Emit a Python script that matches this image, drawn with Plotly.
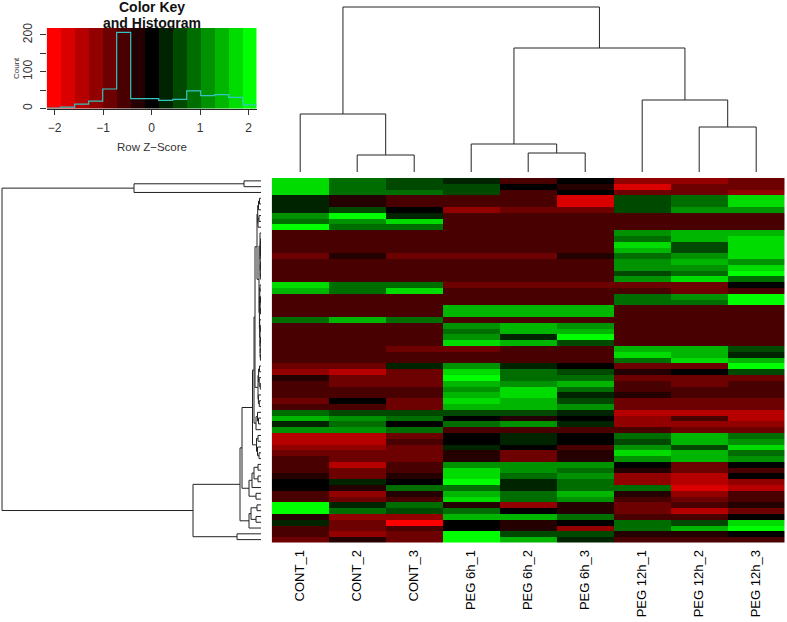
import plotly.graph_objects as go

W, H = 787, 622
SAMPLES = ["CONT_1", "CONT_2", "CONT_3", "PEG 6h_1", "PEG 6h_2", "PEG 6h_3", "PEG 12h_1", "PEG 12h_2", "PEG 12h_3"]

# z-scores per sample, rows top to bottom
cont_1 = [1.73,1.73,1.73,.29,.29,.29,1.15,.87,2.02,
 -.58,-.58,-.58,-.58,-.87,-.58,-.58,-.58,-.58,
 1.73,1.44,-.58,-.58,-.58,-.58,.87,-.58,-.58,
 -.58,-.58,-.58,-.58,-.58,-.87,-1.15,-.29,
 -.58,-.58,-.58,-.87,-.58,.87,1.44,.29,1.15,
 -1.44,-1.44,-1.15,-.87,-.58,-.58,-.58,-.29,0,0,-.58,-.58,2.02,2.02,-.29,.29,-.58,-.58,-.87]
cont_2 = [.87,.87,.87,-.29,-.29,.58,2.02,1.15,.87,
 -.58,-.58,-.58,-.58,-.29,-.58,-.58,-.58,-.58,
 .87,.87,-.58,-.58,-.58,-.58,1.44,-.58,-.58,
 -.58,-.58,-.58,-.58,-.58,-.87,-1.44,-.87,
 -.87,-.58,-.58,0,-.58,.58,1.15,.87,1.15,
 -1.44,-1.44,-1.15,-.87,-.87,-1.44,-.87,-.87,.29,-.29,-1.15,-.87,.29,.87,-1.15,-.87,-.87,-1.15,-.29]
cont_3 = [.58,.58,.87,-.58,-.58,0,.29,1.73,.87,
 -.58,-.58,-.58,-.58,-.87,-.58,-.58,-.58,-.58,
 .87,1.73,-.58,-.58,-.58,-.58,.87,-.58,-.58,
 -.58,-.58,-.87,-.58,-.58,.29,-.87,-.87,
 -.87,-.58,-.58,-.87,-.87,.58,.87,0,.87,
 -.87,-.58,-.87,-.87,-.87,-.58,-.58,-.29,0,.87,-.29,-.58,.87,.58,-1.15,-2.02,-.58,-.87,-.87]
peg6_1 = [.29,.58,.58,-.58,-.58,-1.15,-.58,-.58,-.58,
 -.58,-.58,-.58,-.58,-.87,-.58,-.58,-.58,-.58,
 -.87,-.58,-.58,-.58,1.44,1.44,-.58,1.15,.87,
 1.15,1.73,-.87,-.58,-.58,1.15,1.73,2.02,
 1.44,1.15,1.44,1.73,1.44,.58,0,.87,-.58,
 0,0,.29,-.29,-.29,1.15,1.73,1.73,2.02,.87,1.44,1.73,-.29,.87,1.44,0,0,2.02,2.02]
peg6_2 = [-.58,0,-.58,-.58,-.58,-.87,-.58,-.58,-.58,
 -.58,-.58,-.58,-.58,-.87,-.58,-.58,-.58,-.58,
 -.87,-.58,-.58,-.58,1.44,1.44,-.58,1.44,1.44,
 .29,1.44,-.58,-.58,-.58,.29,.87,.87,
 1.15,1.73,1.73,1.44,1.44,.58,-.29,1.15,-.58,
 .29,.29,0,-.87,-.87,1.15,1.15,.87,.29,.29,.87,.87,-1.15,0,1.44,-.29,-.29,.58,1.44]
peg6_3 = [0,-.29,0,-1.73,-1.73,-.87,-.58,-.58,-.58,
 -.58,-.58,-.58,-.58,-.29,-.58,-.58,-.58,-.58,
 -.87,-.58,-.58,-.58,1.44,1.44,-.58,1.15,1.44,
 2.02,.58,-.58,-.58,-.58,0,.58,.87,
 1.44,.87,.29,.58,1.15,.29,0,.29,-.58,
 0,0,-.58,-.29,-.29,1.15,.87,1.15,.87,.87,1.44,1.15,-.29,-.29,.87,0,-1.15,.58,.29]
peg12_1 = [-1.15,-1.73,-.87,.58,.58,.58,-.58,-.58,-.58,
 1.15,.87,1.73,1.44,.87,1.15,1.15,.58,1.15,
 -.87,-.58,.87,.87,-.58,-.58,-.58,-.58,-.58,
 -.58,-.58,1.44,1.73,.87,-.87,-.29,-.87,
 -.58,-.58,-.29,-.87,-.87,-1.44,-1.15,-1.15,-.58,
 .87,.58,1.15,1.73,1.15,0,-.29,-1.15,-1.15,.87,-.29,-.58,-.87,-.87,-.58,.87,.87,-.29,-.58]
peg12_2 = [-1.15,-.87,-.87,.87,.87,1.15,-.58,-.58,-.58,
 1.44,1.44,.58,.58,1.15,1.44,1.15,.87,1.73,
 -.87,-.87,1.15,.87,-.58,-.58,-.58,-.58,-.58,
 -.58,-.58,1.44,1.44,1.73,-.87,0,-.87,
 -.87,-.58,-.58,-.87,-.87,-1.44,-.58,-1.15,-.87,
 1.44,1.44,.58,1.44,1.44,-.87,-.87,-1.44,-1.44,-1.73,-1.15,-.87,-.58,-1.44,-.58,.58,1.44,-.29,-.58]
peg12_3 = [-.87,-.87,-1.15,1.73,1.73,1.15,-.58,-.58,-.58,
 1.44,1.73,1.73,1.73,1.73,1.15,1.73,2.02,.87,
 0,-.58,2.02,2.02,-.58,-.58,-.58,-.58,-.58,
 -.58,-.58,.58,.29,1.44,2.02,.58,-.87,
 -.58,-.58,-.58,-.87,-.87,-1.44,-1.44,-1.15,-.87,
 .87,1.15,1.73,.87,1.15,0,-.58,0,-1.15,-1.44,-.58,-.58,-.29,-.87,0,1.73,2.02,0,-.58]
COLUMNS = [cont_1, cont_2, cont_3, peg6_1, peg6_2, peg6_3, peg12_1, peg12_2, peg12_3]
assert all(len(c) == 63 for c in COLUMNS), [len(c) for c in COLUMNS]

# colour key
KEY_COLORS = ["#ff0000","#db0000","#b60000","#920000","#6d0000","#490000","#240000","#000000",
              "#002400","#004900","#006d00","#009200","#00b600","#00db00","#00ff00"]
KEY_EDGES = [-2.165,-1.876,-1.588,-1.299,-1.01,-.722,-.433,-.144,.144,.433,.722,1.01,1.299,1.588,1.876,2.165]
KEY_MIDS = [-2.02,-1.73,-1.44,-1.15,-.87,-.58,-.29,0,.29,.58,.87,1.15,1.44,1.73,2.02]
HIST_COUNTS = [1,4,12,20,53,207,27,27,22,25,48,35,38,30,10]

# dendrogram merges: (height, left, right); ints are leaf positions
COL_TREE = (165, (58, 0, (17, 1, 2)), (124, (28, 3, (19, 4, 5)), (72, 6, (45, 7, 8))))
ROWS_3_8 = (3.3, (2.5, (1.5, 3, 4), 5), (3, (2, 6, 7), 8))
ROWS_9_17 = (1, 9, (.8, (.6, (.4, 10, 11), (.5, 12, 13)), (.7, (.3, 14, 15), (.3, 16, 17))))
ROWS_18_31 = (1.6, (1.2, (1, 18, 19), (.9, (.5, 20, 21), (.6, 22, 23))),
              (1.3, 24, (1.1, (.7, 25, 26), (.8, (.5, 27, 28), (.9, 29, (.6, 30, 31))))))
ROWS_32_39 = (3, (2.4, (1.5, 32, 33), (1.8, 34, (.7, 35, 36))), (2.6, 37, (1.7, 38, 39)))
ROWS_40_43 = (5, (3.5, 40, (2.5, 41, 42)), 43)
ROWS_44_48 = (4.5, (3, 44, 45), (3.5, 46, (2, 47, 48)))
ROWS_49_55 = (12, (9, (7, (3, 49, 50), (3, 51, 52)), 53), (5, 54, 55))
ROWS_56_60 = (12, (10, (4, 56, 57), (5, 58, 59)), 60)
ROWS_3_31 = (4, ROWS_3_8, (2, ROWS_9_17, ROWS_18_31))
ROW_TREE = (259, (127, (17, 0, 1), 2),
            (68, (21, (19, (8.5, (7, (6, ROWS_3_31, ROWS_32_39), ROWS_40_43), ROWS_44_48), ROWS_49_55), ROWS_56_60),
             (24, 61, 62)))


def tree_segments(node):
    """Return (position, height, along, across) for a merge tree."""
    if isinstance(node, int):
        return node, 0.0, [], []
    h, a, b = node
    pa, ha, ala, aca = tree_segments(a)
    pb, hb, alb, acb = tree_segments(b)
    al = ala + alb + [pa, pa, pb, pb, None]
    ac = aca + acb + [ha, h, h, hb, None]
    return (pa + pb) / 2, h, al, ac


def dom_x(a, b):
    return [a / W, b / W]


def dom_y(top, bottom):
    return [1 - bottom / H, 1 - top / H]


steps = []
n = len(KEY_COLORS)
for i, c in enumerate(KEY_COLORS):
    steps += [[i / n, c], [(i + 1) / n, c]]

fig = go.Figure()
rows = list(range(63))
z = [[col[r] for col in COLUMNS] for r in rows]
fig.add_trace(go.Heatmap(z=z, x=list(range(9)), y=rows, colorscale=steps, zmin=-2.165, zmax=2.165,
                         showscale=False, xaxis="x", yaxis="y", hoverinfo="skip"))
fig.add_trace(go.Heatmap(z=[KEY_MIDS], x=KEY_EDGES, y=[0, 219], colorscale=steps, zmin=-2.165, zmax=2.165,
                         showscale=False, xaxis="x2", yaxis="y2", hoverinfo="skip"))
fig.add_trace(go.Scatter(x=KEY_EDGES, y=HIST_COUNTS + HIST_COUNTS[-1:], mode="lines",
                         line=dict(color="#35c4c4", width=1.2, shape="hv"), xaxis="x2", yaxis="y2", showlegend=False))
_, _, col_al, col_ac = tree_segments(COL_TREE)
fig.add_trace(go.Scatter(x=col_al, y=col_ac, mode="lines", line=dict(color="#222", width=1),
                         xaxis="x3", yaxis="y3", showlegend=False))
_, _, row_al, row_ac = tree_segments(ROW_TREE)
fig.add_trace(go.Scatter(x=row_ac, y=row_al, mode="lines", line=dict(color="#222", width=1),
                         xaxis="x4", yaxis="y4", showlegend=False))

FONT = "Liberation Sans, Arial, sans-serif"
hidden = dict(visible=False, fixedrange=True)
fig.update_layout(
    width=W, height=H, margin=dict(l=0, r=0, t=0, b=0), paper_bgcolor="white", plot_bgcolor="white",
    showlegend=False, font=dict(family=FONT, color="#222"),
    xaxis=dict(domain=dom_x(271.7, 784.7), range=[-.5, 8.5], tickmode="array", tickvals=list(range(9)),
               ticktext=SAMPLES, tickangle=-90, ticks="", showgrid=False, zeroline=False, showline=False,
               tickfont=dict(size=13, color="black"), ticklabelstandoff=4, anchor="y", automargin=False),
    yaxis=dict(domain=dom_y(178, 542.5), range=[62.5, -.5], showticklabels=False, ticks="", showgrid=False,
               zeroline=False, showline=False, anchor="x"),
    xaxis2=dict(domain=dom_x(46.7, 256.7), range=[-2.165, 2.165], tickmode="array", tickvals=[-2, -1, 0, 1, 2],
                ticktext=["\u22122", "\u22121", "0", "1", "2"], ticks="outside", ticklen=5, tickcolor="#333",
                showline=True, linecolor="#222", showgrid=False, zeroline=False, anchor="y2",
                tickfont=dict(size=12, color="#333"), ticklabelstandoff=3, automargin=False),
    yaxis2=dict(domain=dom_y(28, 108.5), range=[0, 219], tickmode="array", tickvals=[0, 50, 100, 150, 200],
                ticktext=["0", "", "100", "", "200"], tickangle=-90, ticks="outside", ticklen=6, tickcolor="#333",
                showgrid=False, zeroline=False, showline=False, anchor="x2",
                tickfont=dict(size=12, color="#333"), ticklabelstandoff=3, automargin=False),
    xaxis3=dict(domain=dom_x(271.7, 784.7), range=[-.5, 8.5], anchor="y3", **hidden),
    yaxis3=dict(domain=dom_y(0, 172), range=[0, 172], anchor="x3", **hidden),
    xaxis4=dict(domain=dom_x(0, 261), range=[261, 0], anchor="y4", **hidden),
    yaxis4=dict(domain=dom_y(178, 542.5), range=[62.5, -.5], anchor="x4", **hidden),
    annotations=[
        dict(text="<b>Color Key</b>", x=152 / W, y=1 - 7 / H, xref="paper", yref="paper", showarrow=False,
             font=dict(size=14, color="#111", family=FONT), xanchor="center", yanchor="middle"),
        dict(text="<b>and Histogram</b>", x=152 / W, y=1 - 23 / H, xref="paper", yref="paper", showarrow=False,
             font=dict(size=14, color="#111", family=FONT), xanchor="center", yanchor="middle"),
        dict(text="Row Z\u2212Score", x=152 / W, y=1 - 147 / H, xref="paper", yref="paper", showarrow=False,
             font=dict(size=11.5, color="#333", family=FONT), xanchor="center", yanchor="middle"),
        dict(text="Count", x=16 / W, y=1 - 68 / H, xref="paper", yref="paper", showarrow=False, textangle=-90,
             font=dict(size=8, color="#333", family=FONT), xanchor="center", yanchor="middle"),
    ],
)
fig.write_html("out.html", post_script="document.body.style.margin='0';", config={"displayModeBar": False})
